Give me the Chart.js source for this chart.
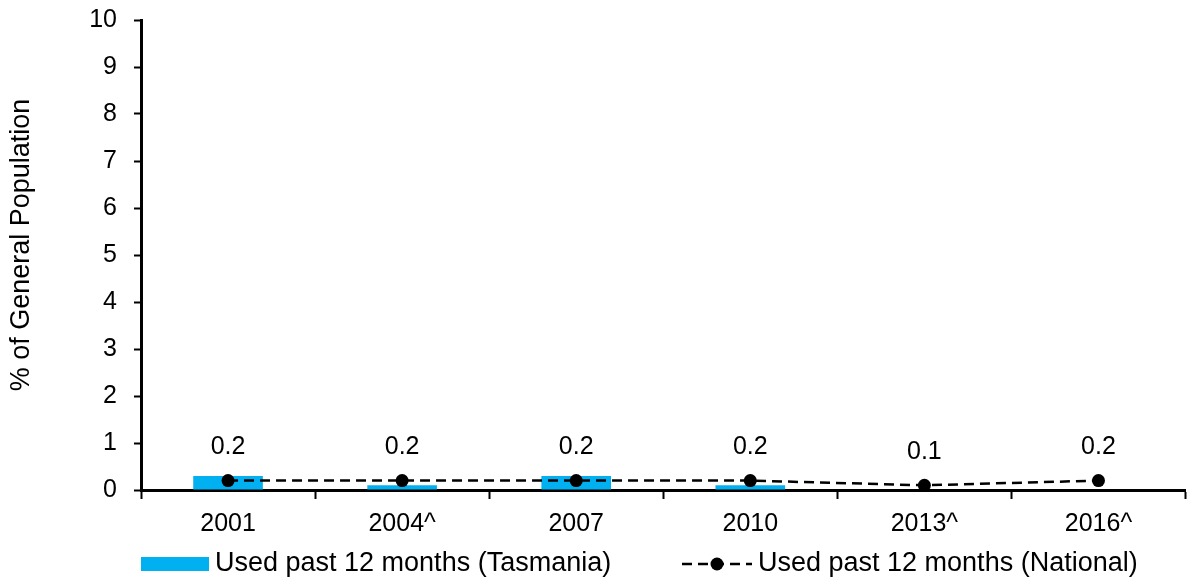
<!DOCTYPE html>
<html>
<head>
<meta charset="utf-8">
<script src="https://cdn.jsdelivr.net/npm/chart.js@4/dist/chart.umd.min.js"></script>
<style>
  html, body { margin: 0; padding: 0; background: #fff; }
  #wrap { width: 1192px; height: 579px; }
</style>
</head>
<body>
<div id="wrap"><canvas id="usageChart" width="1192" height="579"></canvas></div>
<script>
const surveyYears = ["2001", "2004^", "2007", "2010", "2013^", "2016^"];
const tasmaniaPct = [0.3, 0.1, 0.3, 0.1, null, null];
const nationalPct = [0.2, 0.2, 0.2, 0.2, 0.1, 0.2];

const tasLabel = "Used past 12 months (Tasmania)";
const natLabel = "Used past 12 months (National)";
const yTitle = "% of General Population";

const FONT = "'Liberation Sans', Arial, sans-serif";
const BLUE = "#00B0F0";

// value labels above the national points, axis title and bottom legend
const extras = {
  id: "extras",
  afterDatasetsDraw(chart) {
    const ctx = chart.ctx;
    const meta = chart.getDatasetMeta(1);
    ctx.save();
    ctx.fillStyle = "#000";
    ctx.font = "25px " + FONT;
    ctx.textAlign = "center";
    ctx.textBaseline = "middle";
    meta.data.forEach((pt, i) => {
      const v = chart.data.datasets[1].data[i];
      ctx.fillText(v.toFixed(1), pt.x, pt.y - 33);
    });
    ctx.restore();
  },
  afterDraw(chart) {
    const ctx = chart.ctx;
    ctx.save();
    ctx.fillStyle = "#000";

    // y axis title
    ctx.font = "27px " + FONT;
    ctx.textAlign = "center";
    ctx.textBaseline = "middle";
    ctx.translate(22, 245);
    ctx.rotate(-Math.PI / 2);
    ctx.fillText(yTitle, 0, 0);
    ctx.setTransform(1, 0, 0, 1, 0, 0);

    // legend
    const ly = 564;
    ctx.fillStyle = BLUE;
    ctx.fillRect(141, 557, 68, 14);
    ctx.fillStyle = "#000";
    ctx.textAlign = "left";
    ctx.fillText(tasLabel, 215, ly);

    ctx.strokeStyle = "#000";
    ctx.lineWidth = 2.5;
    ctx.setLineDash([10, 6]);
    ctx.beginPath();
    ctx.moveTo(682, ly);
    ctx.lineTo(752, ly);
    ctx.stroke();
    ctx.setLineDash([]);
    ctx.beginPath();
    ctx.arc(717, ly, 6.5, 0, Math.PI * 2);
    ctx.fill();
    ctx.fillText(natLabel, 758, ly);
    ctx.restore();
  }
};

new Chart(document.getElementById("usageChart"), {
  data: {
    labels: surveyYears,
    datasets: [
      {
        type: "bar",
        label: tasLabel,
        data: tasmaniaPct,
        backgroundColor: BLUE,
        borderWidth: 0,
        barPercentage: 0.4,
        categoryPercentage: 1,
        order: 2
      },
      {
        type: "line",
        label: natLabel,
        data: nationalPct,
        borderColor: "#000",
        borderWidth: 2.5,
        borderDash: [10, 6],
        pointRadius: 6.5,
        pointBackgroundColor: "#000",
        pointBorderWidth: 0,
        tension: 0,
        order: 1
      }
    ]
  },
  options: {
    responsive: false,
    animation: false,
    layout: { padding: { top: 20, right: 4, bottom: 44, left: 0 } },
    plugins: {
      legend: { display: false },
      tooltip: { enabled: false }
    },
    scales: {
      x: {
        offset: true,
        grid: {
          offset: true,
          drawOnChartArea: false,
          drawTicks: true,
          tickLength: 9,
          tickColor: "#000",
          tickWidth: 2
        },
        border: { color: "#000", width: 3 },
        ticks: {
          color: "#000",
          font: { family: FONT, size: 25 },
          padding: 10,
          maxRotation: 0
        },
        afterFit(scale) { scale.height = 45; }
      },
      y: {
        min: 0,
        max: 10,
        grid: {
          drawOnChartArea: false,
          drawTicks: true,
          tickLength: 7,
          tickColor: "#000",
          tickWidth: 2
        },
        border: { color: "#000", width: 3 },
        ticks: {
          stepSize: 1,
          color: "#000",
          font: { family: FONT, size: 25 },
          padding: 17
        },
        afterFit(scale) {
          scale.width = 141;
          // keep the plot top at the layout padding
          scale.paddingTop = 0;
          scale.paddingBottom = 0;
        }
      }
    }
  },
  plugins: [extras]
});
</script>
</body>
</html>
